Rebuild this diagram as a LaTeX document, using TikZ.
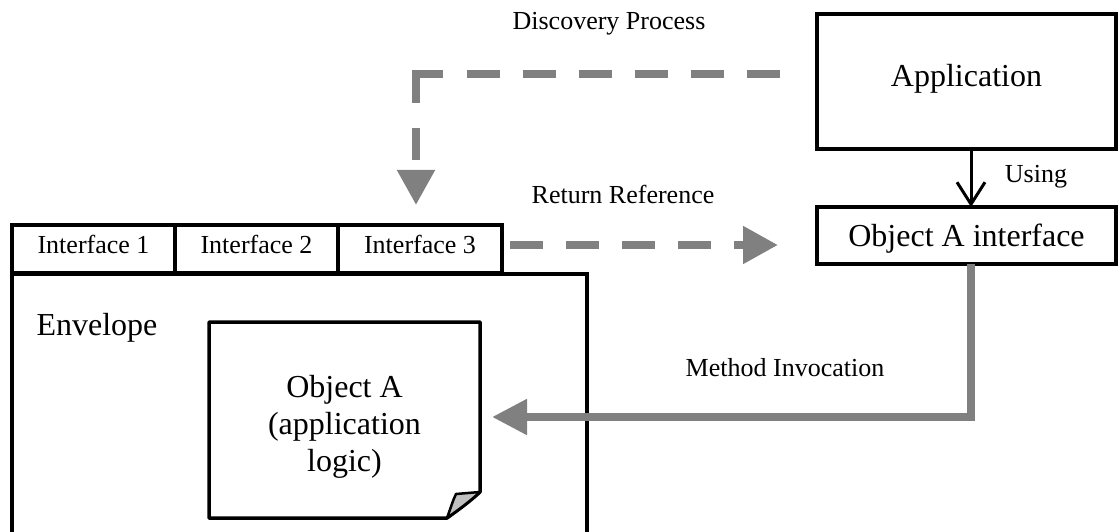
\documentclass[tikz,border=0pt]{standalone}
\usepackage{fontspec}
\setmainfont{Liberation Serif}
\usetikzlibrary{arrows.meta,calc}
\definecolor{arrowgray}{HTML}{808080}
\definecolor{foldgray}{HTML}{C0C0C0}
\begin{document}
\begin{tikzpicture}[x=1pt,y=-1pt,
  box/.style={draw=black, line width=3.5pt, rectangle, inner sep=0pt, outer sep=0pt},
  bigfont/.style={font=\fontsize{32}{37}\selectfont},
  smallfont/.style={font=\fontsize{26}{30}\selectfont},
  tabbox/.style={box, smallfont, minimum height=48pt, text height=18pt, text depth=10pt},
  dasharrow/.style={draw=arrowgray, line width=8pt, dash pattern=on 33pt off 23pt,
     -{Triangle[length=35pt,width=36pt]}},
  solidarrow/.style={draw=arrowgray, line width=8pt, -{Triangle[length=35pt,width=34pt]}},
  usingarrow/.style={draw=black, line width=3pt, -{Straight Barb[length=22pt,width=28pt]}}
]
\useasboundingbox (0,0) rectangle (1120,532);
\clip (0,0) rectangle (1120,532);

% boxes on the right
\node[box, bigfont, minimum width=299pt, minimum height=135pt, text height=22pt, text depth=11pt] (app) at (966.5,81.5) {Application};
\node[box, bigfont, minimum width=299pt, minimum height=57pt, text height=23pt, text depth=0pt] (objint) at (966.5,235.5) {Object A interface};

% envelope and tabs
\node[box, minimum width=575pt, minimum height=300pt, anchor=north west] (env) at (12,274) {};
\node[tabbox, minimum width=163pt] (tab1) at (93.5,249) {Interface 1};
\node[tabbox, minimum width=163pt] (tab2) at (256.5,249) {Interface 2};
\node[tabbox, minimum width=164pt] (tab3) at (420,249) {Interface 3};
\node[bigfont, anchor=base west] (envlabel) at (33,335) {Envelope};

% Object A (folded-corner note)
\node[minimum width=271pt, minimum height=196pt, inner sep=0pt, outer sep=0pt] (objA) at (344.5,420) {};
\draw[line width=3.5pt, line join=round, fill=white]
  (209,322) -- (480,322) -- (480,492) .. controls (468,503) and (458,510) .. (447,518) -- (209,518) -- cycle;
\filldraw[fill=foldgray, draw=black, line width=2.5pt, line join=round]
  (447,518) .. controls (451,507) and (453,500) .. (456,494) -- (480,492)
  .. controls (468,503) and (458,510) .. (447,518) -- cycle;
\node[bigfont, align=center] (objAtext) at ([yshift=-7pt]objA.center) {Object A\\(application\\logic)};

% labels
\node[smallfont] (lblDisc) at (609,24) {Discovery Process};
\node[smallfont] (lblRet) at (623,194) {Return Reference};
\node[smallfont] (lblUse) at (1036,177) {Using};
\node[smallfont] (lblMeth) at (785,368) {Method Invocation};

% connectors
\draw[dasharrow, dash pattern=on 33pt off 23pt on 33pt off 23pt on 33pt off 23pt on 33pt off 23pt on 33pt off 23pt on 33pt off 24pt on 56pt off 25pt on 32pt off 40pt,
  shorten <=37pt, shorten >=20pt] ([yshift=7.5pt]app.west) -| ([xshift=-4pt]tab3.north);
\draw[dasharrow, shorten <=8pt, shorten >=39pt] ([yshift=4pt]tab3.east) -- ([yshift=4pt]tab3.east -| objint.west);
\draw[usingarrow] ([xshift=4.5pt]app.south) -- ([xshift=4.5pt]objint.north);
\draw[solidarrow, shorten >=12pt] ([xshift=4.5pt]objint.south) |- ([yshift=3pt]objA.east);
\end{tikzpicture}
\end{document}
